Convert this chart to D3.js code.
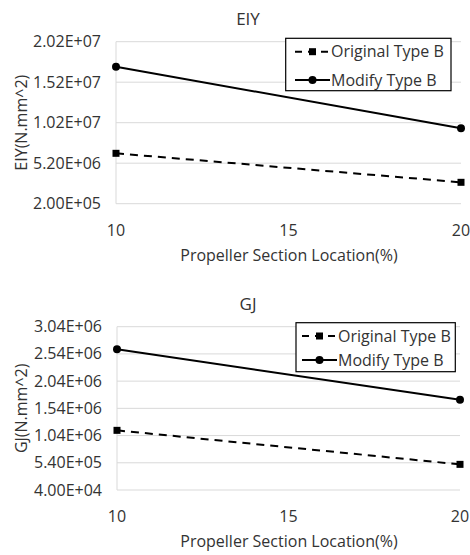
<!DOCTYPE html>
<html>
<head>
<meta charset="utf-8">
<script src="https://cdn.jsdelivr.net/npm/d3@7"></script>
<style>
  html, body { margin: 0; padding: 0; background: #fff; }
  text { font-family: "Open Sans", sans-serif; fill: #333; }
</style>
</head>
<body>
<svg id="chart" width="470" height="555"></svg>
<script>
// Section locations along the propeller (%)
const sectionLocations = [10, 20];
const xTickValues = [10, 15, 20];

// Bending stiffness EIY (N.mm^2)
const eiyOriginal = [6.42e6, 2.84e6];
const eiyModify = [1.711e7, 9.51e6];
const eiyTicks = [2.0e5, 5.2e6, 1.02e7, 1.52e7, 2.02e7];

// Torsional stiffness GJ (N.mm^2)
const gjOriginal = [1.136e6, 5.11e5];
const gjModify = [2.625e6, 1.698e6];
const gjTicks = [4.0e4, 5.4e5, 1.04e6, 1.54e6, 2.04e6, 2.54e6, 3.04e6];

const seriesNames = ["Original Type B", "Modify Type B"];

// Excel-style scientific notation, e.g. 2.02E+07
function sci(v) {
  const [m, e] = v.toExponential(2).split("e");
  const n = Math.abs(+e);
  return m + "E" + (+e < 0 ? "-" : "+") + (n < 10 ? "0" + n : n);
}

const svg = d3.select("#chart");
const FS = 16;

function drawPanel(cfg) {
  const g = svg.append("g");
  const x = d3.scaleLinear().domain([10, 20]).range([cfg.left, cfg.right]);
  const y = d3.scaleLinear()
    .domain([d3.min(cfg.ticks), d3.max(cfg.ticks)])
    .range([cfg.bottom, cfg.top]);

  // horizontal gridlines
  g.selectAll("line.grid").data(cfg.ticks).join("line")
    .attr("x1", cfg.left).attr("x2", cfg.right)
    .attr("y1", d => y(d)).attr("y2", d => y(d))
    .attr("stroke", "#d9d9d9").attr("stroke-width", 1);
  // left edge of the plot area
  g.append("line")
    .attr("x1", cfg.left).attr("x2", cfg.left)
    .attr("y1", cfg.top).attr("y2", cfg.bottom)
    .attr("stroke", "#d9d9d9");

  // y tick labels
  g.selectAll("text.ytick").data(cfg.ticks).join("text")
    .attr("x", cfg.left - 15).attr("y", d => y(d) + 5.5)
    .attr("text-anchor", "end").attr("font-size", FS)
    .text(sci);

  // x tick labels
  g.selectAll("text.xtick").data(xTickValues).join("text")
    .attr("x", d => x(d)).attr("y", cfg.bottom + 32)
    .attr("text-anchor", "middle").attr("font-size", FS)
    .text(d => d);

  // title
  g.append("text")
    .attr("x", 248).attr("y", cfg.top - 16.5)
    .attr("text-anchor", "middle").attr("font-size", 17)
    .text(cfg.title);

  // axis titles
  g.append("text")
    .attr("x", 289).attr("y", cfg.bottom + 57)
    .attr("text-anchor", "middle").attr("font-size", FS)
    .text("Propeller Section Location(%)");
  g.append("text")
    .attr("transform", `translate(27,${(cfg.top + cfg.bottom) / 2}) rotate(-90)`)
    .attr("text-anchor", "middle").attr("font-size", FS)
    .text(cfg.yTitle);

  const line = d3.line().x((d, i) => x(sectionLocations[i])).y(d => y(d));

  // Original: dashed with square markers
  g.append("path").datum(cfg.original)
    .attr("d", line).attr("fill", "none")
    .attr("stroke", "#000").attr("stroke-width", 2)
    .attr("stroke-dasharray", "8,6");
  g.selectAll("rect.orig").data(cfg.original).join("rect")
    .attr("x", (d, i) => x(sectionLocations[i]) - 3.5)
    .attr("y", d => y(d) - 3.5)
    .attr("width", 7).attr("height", 7).attr("fill", "#000");

  // Modify: solid with round markers
  g.append("path").datum(cfg.modify)
    .attr("d", line).attr("fill", "none")
    .attr("stroke", "#000").attr("stroke-width", 2);
  g.selectAll("circle.mod").data(cfg.modify).join("circle")
    .attr("cx", (d, i) => x(sectionLocations[i]))
    .attr("cy", d => y(d)).attr("r", 4).attr("fill", "#000");

  // legend
  const L = cfg.legend;
  g.append("rect")
    .attr("x", L.x).attr("y", L.y).attr("width", L.w).attr("height", L.h)
    .attr("fill", "#fff").attr("stroke", "#000").attr("stroke-width", 1.2);
  seriesNames.forEach((name, i) => {
    const ry = L.rows[i];
    const sx0 = L.sx, sx1 = L.sx + 35, cx = (sx0 + sx1) / 2;
    g.append("line")
      .attr("x1", sx0).attr("x2", sx1).attr("y1", ry).attr("y2", ry)
      .attr("stroke", "#000").attr("stroke-width", 2)
      .attr("stroke-dasharray", i === 0 ? "7,6" : null);
    if (i === 0) {
      g.append("rect").attr("x", cx - 3.5).attr("y", ry - 3.5)
        .attr("width", 7).attr("height", 7).attr("fill", "#000");
    } else {
      g.append("circle").attr("cx", cx).attr("cy", ry).attr("r", 4).attr("fill", "#000");
    }
    g.append("text")
      .attr("x", sx1 + 1).attr("y", ry + 5.5)
      .attr("font-size", FS)
      .text(name);
  });
}

drawPanel({
  title: "EIY", yTitle: "EIY(N.mm^2)",
  left: 116, right: 461, top: 41.7, bottom: 203.7,
  ticks: eiyTicks, original: eiyOriginal, modify: eiyModify,
  legend: { x: 285.7, y: 38.3, w: 165.3, h: 52.4, sx: 295, rows: [51.7, 80] }
});

drawPanel({
  title: "GJ", yTitle: "GJ(N.mm^2)",
  left: 117, right: 460, top: 326.7, bottom: 490,
  ticks: gjTicks, original: gjOriginal, modify: gjModify,
  legend: { x: 296, y: 322.7, w: 159.3, h: 49, sx: 302, rows: [336, 360] }
});
</script>
</body>
</html>
